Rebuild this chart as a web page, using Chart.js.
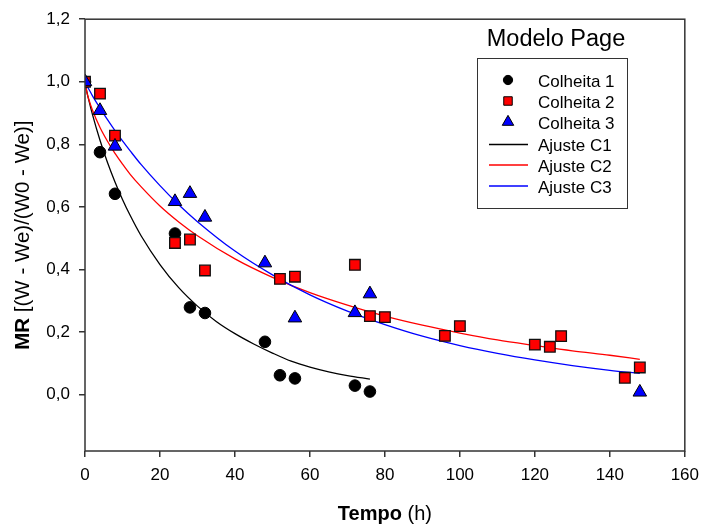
<!DOCTYPE html>
<html>
<head>
<meta charset="utf-8">
<script src="https://cdn.jsdelivr.net/npm/chart.js@4.4.0/dist/chart.umd.min.js"></script>
<style>
  html, body { margin: 0; padding: 0; background: #fff; }
  #wrap { width: 707px; height: 529px; }
</style>
</head>
<body>
<div id="wrap"><canvas id="mrChart"></canvas></div>
<script>
var c1Tempo = [0, 4, 8, 24, 28, 32, 48, 52, 56, 72, 76];
var c1MR = [1.0, 0.775, 0.642, 0.515, 0.279, 0.261, 0.169, 0.062, 0.052, 0.029, 0.010];
var c2Tempo = [0, 4, 8, 24, 28, 32, 52, 56, 72, 76, 80, 96, 100, 120, 124, 127, 144, 148];
var c2MR = [1.0, 0.962, 0.828, 0.485, 0.496, 0.397, 0.370, 0.377, 0.415, 0.251, 0.248, 0.188, 0.219, 0.160, 0.153, 0.187, 0.054, 0.087];
var c3Tempo = [0, 4, 8, 24, 28, 32, 48, 56, 72, 76, 148];
var c3MR = [1.0, 0.908, 0.794, 0.617, 0.643, 0.567, 0.421, 0.245, 0.262, 0.322, 0.008];

// curvas ajustadas (modelo de Page), lidas ponto a ponto
var ajTempo1 = [0, 0.5, 1, 2, 4, 6, 8, 10, 12, 15, 20, 25, 30, 35, 40, 45, 50, 55, 60, 65, 70, 76];
var ajC1 = [1.0, 0.968, 0.942, 0.895, 0.813, 0.742, 0.680, 0.624, 0.574, 0.507, 0.416, 0.342, 0.283, 0.234, 0.195, 0.162, 0.133, 0.107, 0.088, 0.073, 0.061, 0.050];
var ajTempo23 = [0, 0.5, 1, 2, 4, 6, 8, 10, 12, 15, 20, 25, 30, 40, 50, 60, 70, 80, 90, 100, 110, 120, 130, 140, 148];
var ajC2 = [1.0, 0.966, 0.944, 0.909, 0.854, 0.810, 0.771, 0.737, 0.705, 0.664, 0.603, 0.552, 0.508, 0.434, 0.375, 0.326, 0.286, 0.251, 0.222, 0.197, 0.175, 0.157, 0.140, 0.126, 0.113];
var ajC3 = [1.0, 0.988, 0.977, 0.955, 0.916, 0.879, 0.844, 0.811, 0.780, 0.735, 0.668, 0.607, 0.553, 0.459, 0.383, 0.319, 0.267, 0.224, 0.187, 0.157, 0.132, 0.111, 0.093, 0.078, 0.068];

var xTicks = [0, 20, 40, 60, 80, 100, 120, 140, 160];
var yTicks = [0.0, 0.2, 0.4, 0.6, 0.8, 1.0, 1.2];

function pares(xs, ys) {
    return xs.map(function (x, i) { return { x: x, y: ys[i] }; });
}

var fonte = "'Liberation Sans', Arial, sans-serif";
Chart.defaults.font.family = fonte;
Chart.defaults.font.size = 17;
Chart.defaults.color = '#000';

// texto com partes em negrito e normal, centrado em x
function textoMisto(ctx, partes, x, y, tam) {
    var total = 0;
    partes.forEach(function (p) {
        ctx.font = (p.bold ? 'bold ' : '') + tam + 'px ' + fonte;
        p.w = ctx.measureText(p.t).width;
        total += p.w;
    });
    var px = x - total / 2;
    partes.forEach(function (p) {
        ctx.font = (p.bold ? 'bold ' : '') + tam + 'px ' + fonte;
        ctx.fillText(p.t, px, y);
        px += p.w;
    });
}

function marcador(ctx, estilo, x, y, r, cor) {
    ctx.beginPath();
    if (estilo === 'circle') {
        ctx.arc(x, y, r, 0, Math.PI * 2);
    } else if (estilo === 'rect') {
        var s = r * Math.SQRT1_2;
        ctx.rect(x - s, y - s, 2 * s, 2 * s);
    } else {
        ctx.moveTo(x, y - r);
        ctx.lineTo(x + r * 0.866, y + r * 0.5);
        ctx.lineTo(x - r * 0.866, y + r * 0.5);
        ctx.closePath();
    }
    ctx.fillStyle = cor;
    ctx.fill();
    ctx.strokeStyle = '#000';
    ctx.lineWidth = 1;
    ctx.stroke();
}

var extras = {
    id: 'extras',
    afterDraw: function (chart) {
        var ctx = chart.ctx, a = chart.chartArea;
        ctx.save();
        ctx.strokeStyle = '#333';
        ctx.lineWidth = 1.5;
        ctx.strokeRect(a.left, a.top, a.right - a.left, a.bottom - a.top);

        ctx.fillStyle = '#000';
        ctx.textBaseline = 'alphabetic';
        textoMisto(ctx, [{ t: 'Tempo', bold: true }, { t: ' (h)' }], (a.left + a.right) / 2, 520, 20);

        ctx.save();
        ctx.translate(28.5, (a.top + a.bottom) / 2);
        ctx.rotate(-Math.PI / 2);
        textoMisto(ctx, [{ t: 'MR', bold: true }, { t: ' [(W - We)/(W0 - We)]' }], 0, 0, 20.5);
        ctx.restore();

        // legenda
        ctx.font = '23.5px ' + fonte;
        ctx.textAlign = 'center';
        ctx.fillText('Modelo Page', 556, 46);
        ctx.textAlign = 'left';
        ctx.lineWidth = 1;
        ctx.strokeStyle = '#333';
        ctx.strokeRect(477.5, 58.5, 150, 150);
        ctx.font = '17px ' + fonte;
        var linhas = [80, 101, 122, 144.5, 165, 186];
        var escala = { circle: 0.8, rect: 0.8, triangle: 0.85 };
        chart.data.datasets.forEach(function (ds, i) {
            var y = linhas[i];
            if (ds.showLine) {
                ctx.strokeStyle = ds.borderColor;
                ctx.lineWidth = 1.3;
                ctx.beginPath();
                ctx.moveTo(489, y);
                ctx.lineTo(528, y);
                ctx.stroke();
            } else {
                marcador(ctx, ds.pointStyle, 508, y, ds.pointRadius * escala[ds.pointStyle], ds.backgroundColor);
            }
            ctx.fillStyle = '#000';
            ctx.fillText(ds.label, 538, y + 6.5);
        });
        ctx.restore();
    }
};

new Chart(document.getElementById('mrChart'), {
    type: 'scatter',
    data: {
        datasets: [
            { label: 'Colheita 1', data: pares(c1Tempo, c1MR), pointStyle: 'circle', pointRadius: 5.8,
              backgroundColor: '#000', borderColor: '#000', borderWidth: 1, order: 2 },
            { label: 'Colheita 2', data: pares(c2Tempo, c2MR), pointStyle: 'rect', pointRadius: 7.5,
              backgroundColor: '#ff0000', borderColor: '#111', borderWidth: 1.3, order: 1 },
            { label: 'Colheita 3', data: pares(c3Tempo, c3MR), pointStyle: 'triangle', pointRadius: 7.8,
              backgroundColor: '#0000ff', borderColor: '#000', borderWidth: 1, order: 0 },
            { label: 'Ajuste C1', data: pares(ajTempo1, ajC1), showLine: true, pointRadius: 0,
              borderColor: '#000', borderWidth: 1.3, cubicInterpolationMode: 'monotone', order: 5 },
            { label: 'Ajuste C2', data: pares(ajTempo23, ajC2), showLine: true, pointRadius: 0,
              borderColor: '#ff0000', borderWidth: 1.3, cubicInterpolationMode: 'monotone', order: 4 },
            { label: 'Ajuste C3', data: pares(ajTempo23, ajC3), showLine: true, pointRadius: 0,
              borderColor: '#0000ff', borderWidth: 1.3, cubicInterpolationMode: 'monotone', order: 3 }
        ]
    },
    options: {
        responsive: true,
        maintainAspectRatio: false,
        animation: false,
        layout: { padding: { top: 14, right: 15.5, left: 0, bottom: 0 } },
        plugins: {
            legend: { display: false },
            tooltip: { enabled: false }
        },
        scales: {
            x: {
                type: 'linear',
                min: 0,
                max: 160,
                afterBuildTicks: function (s) { s.ticks = xTicks.map(function (v) { return { value: v }; }); },
                afterFit: function (s) { s.height = 78; },
                ticks: { padding: 8, maxRotation: 0, callback: function (v) { return String(v); } },
                grid: { drawOnChartArea: false, tickLength: 6, color: '#333', lineWidth: 1.5 },
                border: { display: false }
            },
            y: {
                type: 'linear',
                min: -0.18,
                max: 1.2,
                afterBuildTicks: function (s) { s.ticks = yTicks.map(function (v) { return { value: v }; }); },
                afterFit: function (s) { s.width = 85; },
                ticks: { padding: 9, callback: function (v) { return v.toFixed(1).replace('.', ','); } },
                grid: { drawOnChartArea: false, tickLength: 6, color: '#333', lineWidth: 1.5 },
                border: { display: false }
            }
        }
    },
    plugins: [extras]
});
</script>
</body>
</html>
